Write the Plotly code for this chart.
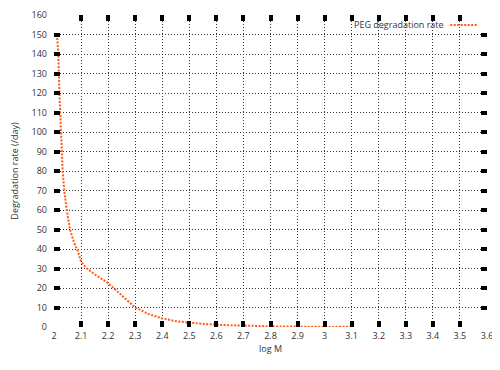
import plotly.graph_objects as go

log_m = [2.011, 2.016, 2.020, 2.025, 2.032, 2.038, 2.047, 2.059, 2.075, 2.089,
         2.100, 2.118, 2.15, 2.20, 2.25, 2.30, 2.35, 2.40, 2.45, 2.50,
         2.60, 2.70, 2.80, 2.90, 3.00, 3.10]
rate = [150, 140, 120, 100, 80, 70, 60, 50, 43, 38.5,
        33.5, 30.5, 27, 22.5, 16, 10, 6.6, 4.4, 3.0, 2.2,
        1.1, 0.6, 0.35, 0.2, 0.12, 0.08]

x_ticks = [round(2 + 0.1 * i, 1) for i in range(17)]
x_tick_text = [("%g" % v) for v in x_ticks]
y_ticks = list(range(0, 161, 10))

series_name = "PEG degradation rate"
line_color = "#ff5a14"

fig = go.Figure()
fig.add_trace(go.Scatter(x=log_m, y=rate, mode="lines", name=series_name,
                         line=dict(color=line_color, width=2, dash="2px,1.5px"),
                         showlegend=False))

font = dict(family="Open Sans, sans-serif", size=9, color="#333333")
axis_common = dict(showgrid=True, gridcolor="#333333", griddash="1px,2px", gridwidth=1,
                   zeroline=False, showline=False, ticks="inside", ticklen=6,
                   tickwidth=4, tickcolor="black", mirror="ticks", tickfont=font,
                   automargin=False)

fig.update_xaxes(range=[2, 3.6], tickvals=x_ticks, ticktext=x_tick_text,
                 ticklabelstandoff=2,
                 title=dict(text="log M", font=font, standoff=4), **axis_common)
fig.update_yaxes(range=[0, 160], tickvals=y_ticks, ticklabelstandoff=6,
                 title=dict(text="Degradation rate (/day)", font=font, standoff=14),
                 **axis_common)

fig.add_annotation(x=0.906, y=0.968, xref="paper", yref="paper", text=series_name,
                   showarrow=False, xanchor="right", yanchor="middle", font=font)
fig.add_shape(type="line", xref="paper", yref="paper", x0=0.915, x1=0.979,
              y0=0.968, y1=0.968, line=dict(color=line_color, width=2, dash="2px,1.5px"))

fig.update_layout(width=492, height=362, margin=dict(l=46, r=13, t=7, b=43),
                  plot_bgcolor="white", paper_bgcolor="white", font=font)

fig.write_html("out.html")
